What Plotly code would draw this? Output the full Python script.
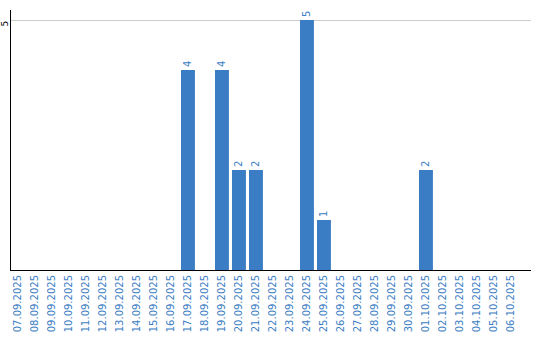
import plotly.graph_objects as go

dates = ["07.09.2025", "08.09.2025", "09.09.2025", "10.09.2025", "11.09.2025",
         "12.09.2025", "13.09.2025", "14.09.2025", "15.09.2025", "16.09.2025",
         "17.09.2025", "18.09.2025", "19.09.2025", "20.09.2025", "21.09.2025",
         "22.09.2025", "23.09.2025", "24.09.2025", "25.09.2025", "26.09.2025",
         "27.09.2025", "28.09.2025", "29.09.2025", "30.09.2025", "01.10.2025",
         "02.10.2025", "03.10.2025", "04.10.2025", "05.10.2025", "06.10.2025"]
counts = [0, 0, 0, 0, 0, 0, 0, 0, 0, 0,
          4, 0, 4, 2, 2, 0, 0, 5, 1, 0,
          0, 0, 0, 0, 2, 0, 0, 0, 0, 0]
y_ticks = [5]

blue = "#3b7dc4"
labels = [str(v) if v else "" for v in counts]

fig = go.Figure(go.Bar(
    x=dates, y=counts, marker_color=blue, marker_line_width=0, width=0.82,
    text=labels, textposition="outside", textangle=-90,
    textfont=dict(family="DejaVu Sans", size=10, color=blue),
    cliponaxis=False, hoverinfo="skip",
))

fig.update_layout(
    width=540, height=340,
    margin=dict(l=11, r=9, t=10, b=70),
    paper_bgcolor="white", plot_bgcolor="white",
    showlegend=False,
    uniformtext=dict(minsize=10, mode="show"),
)
fig.update_xaxes(
    type="category", range=[-0.41, 30.18], automargin=False,
    tickangle=-90, tickfont=dict(family="DejaVu Sans", size=10, color=blue),
    showline=True, linecolor="black", linewidth=1,
    showgrid=False, ticks="", ticklen=0,
)
fig.update_yaxes(
    range=[0, 5.2], tickvals=y_ticks, ticktext=[str(v) for v in y_ticks],
    automargin=False,
    tickangle=-90, tickfont=dict(family="DejaVu Sans", size=9, color="black"),
    showline=True, linecolor="black", linewidth=1,
    showgrid=True, gridcolor="#cccccc", gridwidth=1,
    zeroline=False, ticks="", ticklabelstandoff=-2, ticklabelshift=5,
)

fig.write_html("out.html")
